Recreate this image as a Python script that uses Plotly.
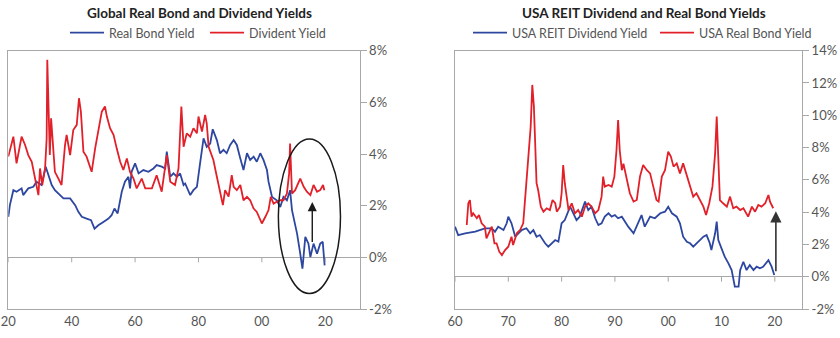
import plotly.graph_objects as go

# ---- Global: real bond yield and dividend yield (%), 1920-2020 ----
global_bond_years = [
    1920.0, 1920.5, 1921.6, 1922.6, 1924.2, 1924.7, 1926.3, 1927.9, 1928.9, 1930.5,
    1931.8, 1932.6, 1933.7, 1934.7, 1935.8, 1937.4, 1939.5, 1941.1, 1942.1, 1943.2,
    1944.7, 1946.1, 1947.2, 1948.4, 1950.0, 1951.6, 1952.6, 1953.5, 1954.5, 1955.8,
    1956.8, 1957.9, 1958.4, 1958.9, 1960.0, 1961.1, 1962.6, 1964.2, 1965.8, 1966.8,
    1968.4, 1969.5, 1970.0, 1971.1, 1972.1, 1973.2, 1974.2, 1975.3, 1975.8, 1977.4,
    1978.4, 1979.5, 1980.5, 1981.6, 1982.6, 1983.7, 1984.5, 1985.8, 1986.8, 1987.9,
    1988.9, 1990.0, 1991.1, 1992.1, 1993.2, 1994.2, 1995.3, 1996.3, 1997.4, 1998.4,
    1999.5, 2000.5, 2001.6, 2002.1, 2003.2, 2004.7, 2005.8, 2006.8, 2007.9, 2008.9,
    2009.5, 2010.5, 2011.1, 2012.1, 2012.8, 2013.7, 2014.7, 2015.3, 2016.3, 2017.4,
    2018.4, 2019.2, 2019.8,
]
global_bond_yield = [
    1.57, 2.02, 2.60, 2.54, 2.67, 2.41, 2.67, 2.73, 2.93, 2.80,
    3.51, 3.18, 2.80, 2.60, 2.47, 2.28, 2.28, 2.02, 1.76, 1.57,
    1.50, 1.44, 1.11, 1.24, 1.37, 1.50, 1.63, 1.89, 1.70, 2.54,
    2.93, 3.12, 2.67, 3.31, 3.64, 3.25, 3.38, 3.31, 3.44, 3.57,
    3.51, 3.44, 4.09, 3.12, 3.25, 3.12, 3.25, 2.80, 2.86, 2.41,
    2.60, 2.73, 3.64, 4.61, 4.28, 4.41, 4.96, 4.54, 4.03, 4.16,
    4.03, 4.35, 4.54, 4.35, 3.83, 3.38, 4.03, 3.77, 3.90, 3.70,
    4.03, 3.77, 3.38, 2.93, 2.34, 2.21, 1.95, 2.34, 2.21, 2.60,
    1.83, 1.31, 0.92, 0.14, -0.44, 0.79, 0.53, 0.01, 0.53, 0.14,
    0.53, 0.60, -0.31,
]

global_div_years = [
    1920.0, 1921.6, 1922.6, 1924.2, 1925.3, 1926.3, 1927.4, 1928.4, 1929.5, 1930.0,
    1930.7, 1931.6, 1932.1, 1932.3, 1932.7, 1933.1, 1933.5, 1934.0, 1934.7, 1935.8,
    1936.8, 1937.9, 1938.4, 1939.5, 1940.5, 1941.6, 1942.3, 1942.9, 1943.7, 1944.7,
    1946.3, 1947.4, 1948.4, 1949.5, 1950.5, 1951.1, 1952.1, 1953.2, 1954.2, 1955.3,
    1956.3, 1957.4, 1958.4, 1959.5, 1960.5, 1962.1, 1963.2, 1965.3, 1966.8, 1968.4,
    1970.0, 1971.1, 1972.6, 1973.7, 1974.6, 1975.3, 1976.3, 1977.4, 1978.4, 1979.5,
    1980.0, 1981.1, 1982.1, 1982.6, 1983.2, 1984.2, 1984.7, 1985.8, 1986.8, 1987.7,
    1988.4, 1989.5, 1990.5, 1991.1, 1992.1, 1993.2, 1994.2, 1995.3, 1996.3, 1997.4,
    1998.4, 2000.0, 2001.1, 2002.1, 2002.8, 2003.7, 2004.7, 2005.8, 2006.8, 2007.9,
    2008.6, 2008.9, 2009.5, 2010.5, 2012.1, 2013.2, 2014.2, 2015.3, 2016.3, 2017.4,
    2018.4, 2019.3, 2019.7,
]
global_div_yield = [
    3.90, 4.67, 3.64, 4.67, 4.35, 3.96, 3.70, 3.05, 2.41, 3.44,
    2.80, 3.44, 4.60, 7.65, 5.64, 3.96, 5.38, 4.35, 3.31, 3.05,
    2.80, 4.35, 4.74, 3.96, 4.93, 5.13, 6.16, 5.64, 4.09, 3.90,
    3.31, 4.22, 4.87, 5.64, 5.84, 5.45, 5.00, 4.74, 4.22, 3.70,
    3.38, 3.83, 3.31, 3.05, 2.67, 3.05, 2.67, 2.67, 3.18, 2.54,
    3.96, 2.93, 2.80, 3.44, 5.84, 4.28, 4.80, 4.67, 5.00, 4.80,
    5.45, 4.87, 5.51, 5.19, 4.28, 3.90, 3.77, 3.12, 2.60, 2.02,
    2.60, 2.35, 3.18, 2.73, 2.60, 2.80, 2.21, 2.34, 2.21, 1.89,
    1.76, 1.31, 1.57, 1.83, 2.34, 2.08, 2.15, 2.21, 2.21, 2.47,
    3.25, 4.41, 2.47, 2.60, 3.05, 2.73, 2.54, 2.41, 2.80, 2.54,
    2.60, 2.80, 2.60,
]

# ---- USA: REIT dividend yield and real bond yield (%), 1960-2020 ----
usa_reit_years = [
    1960.0, 1960.6, 1961.9, 1963.8, 1965.6, 1966.9, 1967.5, 1968.1, 1969.1, 1969.7,
    1970.0, 1970.6, 1971.3, 1971.9, 1972.5, 1973.4, 1974.1, 1974.7, 1975.3, 1975.9,
    1976.9, 1977.5, 1978.1, 1978.8, 1979.4, 1980.0, 1980.6, 1981.3, 1981.6, 1982.2,
    1982.8, 1983.4, 1984.4, 1985.0, 1985.6, 1986.3, 1986.9, 1987.5, 1988.1, 1988.8,
    1989.4, 1990.0, 1990.6, 1991.3, 1991.9, 1992.5, 1993.5, 1994.1, 1995.0, 1995.6,
    1996.6, 1997.5, 1998.5, 1999.4, 2000.0, 2000.7, 2001.6, 2002.2, 2002.8, 2003.5,
    2004.1, 2004.7, 2005.3, 2006.0, 2006.6, 2007.2, 2007.8, 2008.1, 2008.8, 2009.1,
    2009.4, 2010.0, 2010.6, 2011.3, 2011.9, 2012.5, 2013.2, 2013.5, 2014.1, 2014.7,
    2015.3, 2016.0, 2016.6, 2017.2, 2017.8, 2018.8, 2019.4, 2019.9,
]
usa_reit_yield = [
    3.10, 2.58, 2.69, 2.79, 3.00, 3.00, 2.79, 3.10, 2.89, 3.31,
    3.72, 3.31, 2.48, 2.69, 2.89, 3.00, 2.69, 2.89, 2.48, 2.58,
    2.07, 1.86, 2.07, 2.27, 2.17, 3.31, 3.51, 4.13, 4.34, 3.93,
    3.51, 3.72, 4.65, 4.13, 4.34, 3.62, 3.20, 3.31, 3.72, 3.93,
    3.72, 3.82, 3.62, 3.72, 3.41, 3.10, 2.69, 3.10, 3.82, 3.10,
    3.72, 3.62, 3.93, 4.03, 4.34, 3.93, 3.72, 3.31, 2.48, 2.17,
    2.07, 1.86, 2.07, 2.27, 2.48, 2.58, 2.07, 1.65, 2.69, 3.41,
    2.27, 1.76, 1.24, 0.83, 0.41, -0.62, -0.62, 0.41, 0.93, 0.41,
    0.72, 0.41, 0.62, 0.52, 0.62, 1.03, 0.62, 0.10,
]

usa_bond_years = [
    1962.2, 1962.5, 1962.8, 1963.1, 1963.4, 1964.1, 1964.5, 1965.0, 1965.6, 1965.9,
    1966.6, 1966.9, 1967.4, 1967.8, 1968.3, 1968.8, 1969.4, 1970.0, 1970.6, 1970.9,
    1971.6, 1972.2, 1972.8, 1973.1, 1973.4, 1973.8, 1974.2, 1974.5, 1974.8, 1975.0,
    1975.3, 1975.6, 1976.1, 1976.6, 1977.2, 1977.8, 1978.3, 1978.8, 1979.1, 1979.7,
    1980.0, 1980.3, 1980.6, 1981.3, 1981.9, 1982.5, 1983.1, 1983.8, 1984.4, 1985.0,
    1985.6, 1986.3, 1986.9, 1987.5, 1987.8, 1988.1, 1988.8, 1989.4, 1989.9, 1990.3,
    1990.6, 1990.9, 1991.3, 1991.6, 1992.2, 1992.8, 1993.5, 1994.1, 1994.7, 1995.3,
    1996.0, 1996.6, 1997.2, 1997.8, 1998.2, 1998.8, 1999.4, 2000.0, 2000.5, 2001.0,
    2001.6, 2002.2, 2002.8, 2003.5, 2004.1, 2004.7, 2005.3, 2006.0, 2006.6, 2007.1,
    2007.7, 2008.3, 2008.8, 2009.1, 2009.4, 2009.7, 2010.3, 2011.0, 2011.6, 2012.2,
    2012.8, 2013.5, 2014.1, 2015.0, 2015.7, 2016.3, 2016.9, 2017.5, 2018.2, 2018.8,
    2019.1, 2019.7,
]
usa_bond_yield = [
    3.20, 4.55, 4.75, 3.72, 3.93, 3.62, 3.82, 3.31, 3.10, 2.38,
    2.89, 3.10, 2.07, 2.07, 1.55, 1.34, 1.65, 1.86, 2.48, 1.96,
    2.69, 2.89, 3.31, 4.55, 5.68, 7.85, 9.30, 11.88, 10.54, 8.68,
    5.79, 5.37, 4.34, 4.03, 4.24, 4.13, 4.75, 4.55, 4.03, 4.34,
    5.17, 6.92, 5.79, 4.13, 4.55, 3.93, 4.13, 3.72, 4.34, 4.55,
    4.34, 3.93, 4.13, 4.96, 6.20, 5.58, 5.68, 5.58, 6.20, 7.85,
    9.71, 7.85, 6.60, 7.00, 6.00, 5.17, 4.65, 4.75, 6.20, 6.92,
    6.60, 6.40, 5.58, 4.75, 4.65, 6.20, 6.60, 7.75, 7.44, 6.82,
    7.02, 6.40, 7.02, 6.20, 5.58, 4.96, 5.17, 4.75, 4.34, 3.82,
    4.55, 5.58, 7.64, 9.92, 7.64, 4.75, 4.55, 4.34, 4.96, 4.24,
    4.34, 4.13, 4.24, 3.72, 4.34, 4.03, 4.44, 4.34, 4.55, 5.06,
    4.65, 4.24,
]

# ---- axis ticks ----
left_year_ticks = [1920, 1940, 1960, 1980, 2000, 2020]
right_year_ticks = [1960, 1970, 1980, 1990, 2000, 2010, 2020]
left_pct_ticks = [-2, 0, 2, 4, 6, 8]
right_pct_ticks = [-2, 0, 2, 4, 6, 8, 10, 12, 14]

BLUE = "#2D47A0"
RED = "#E2202A"
FRAME = "#A8A8A8"
TICK_TEXT = "#555555"
FONT = "Lato, 'Open Sans', sans-serif"

W, H = 840, 338


def px_x(p):
    return p / W


def px_y(p):
    return 1 - p / H


y_dom = [px_y(309), px_y(50.7)]
left_dom = [px_x(8.3), px_x(359.5)]
right_dom = [px_x(455), px_x(802)]

fig = go.Figure()

fig.add_trace(go.Scatter(x=global_bond_years, y=global_bond_yield, mode="lines",
                         name="Real Bond Yield", line=dict(color=BLUE, width=1.8),
                         xaxis="x", yaxis="y", legend="legend"))
fig.add_trace(go.Scatter(x=global_div_years, y=global_div_yield, mode="lines",
                         name="Divident Yield", line=dict(color=RED, width=1.8),
                         xaxis="x", yaxis="y", legend="legend"))
fig.add_trace(go.Scatter(x=usa_reit_years, y=usa_reit_yield, mode="lines",
                         name="USA REIT Dividend Yield", line=dict(color=BLUE, width=1.8),
                         xaxis="x2", yaxis="y2", legend="legend2"))
fig.add_trace(go.Scatter(x=usa_bond_years, y=usa_bond_yield, mode="lines",
                         name="USA Real Bond Yield", line=dict(color=RED, width=1.8),
                         xaxis="x2", yaxis="y2", legend="legend2"))


def x_axis(dom, rng, ticks, anchor):
    return dict(domain=dom, range=rng, anchor=anchor, automargin=False,
                tickvals=ticks, ticktext=[f"{t % 100:02d}" for t in ticks],
                ticks="", showgrid=False, zeroline=False,
                showline=True, mirror=True, linecolor=FRAME, linewidth=1,
                tickfont=dict(family=FONT, size=13, color=TICK_TEXT))


def y_axis(rng, ticks, anchor):
    return dict(domain=y_dom, range=rng, anchor=anchor, side="right", automargin=False,
                tickvals=ticks, ticktext=[f"{t}%" for t in ticks],
                ticks="outside", ticklen=6, tickcolor=FRAME, tickwidth=1,
                showgrid=False, zeroline=True, zerolinecolor=FRAME, zerolinewidth=1,
                showline=True, mirror=True, linecolor=FRAME, linewidth=1,
                tickfont=dict(family=FONT, size=13, color=TICK_TEXT))


shapes = []
# small tick marks hanging from the zero line
for t in left_year_ticks:
    shapes.append(dict(type="line", xref="x", yref="y", ysizemode="pixel", yanchor=0,
                       x0=t, x1=t, y0=0, y1=-5, line=dict(color=FRAME, width=1)))
for t in right_year_ticks:
    shapes.append(dict(type="line", xref="x2", yref="y2", ysizemode="pixel", yanchor=0,
                       x0=t, x1=t, y0=0, y1=-5, line=dict(color=FRAME, width=1)))
# ellipse around the recent period on the global panel
shapes.append(dict(type="circle", xref="x", yref="y", x0=2005.2, x1=2024.8,
                   y0=-1.4, y1=4.58, line=dict(color="#1A1A1A", width=1.5)))

annotations = [
    dict(text="<b>Global Real Bond and Dividend Yields</b>", xref="paper", yref="paper",
         x=px_x(199.5), y=px_y(13), xanchor="center", yanchor="middle", showarrow=False,
         font=dict(family=FONT, size=13.5, color="#222222")),
    dict(text="<b>USA REIT Dividend and Real Bond Yields</b>", xref="paper", yref="paper",
         x=px_x(644), y=px_y(13), xanchor="center", yanchor="middle", showarrow=False,
         font=dict(family=FONT, size=13.5, color="#222222")),
    # gap arrows
    dict(x=2015.9, y=2.14, ax=2015.9, ay=0.54, xref="x", yref="y", axref="x", ayref="y",
         text="", showarrow=True, arrowhead=2, arrowsize=1.3, arrowwidth=1.4,
         arrowcolor="#1A1A1A"),
    dict(x=2020.2, y=4.05, ax=2020.2, ay=0.25, xref="x2", yref="y2", axref="x2", ayref="y2",
         text="", showarrow=True, arrowhead=2, arrowsize=1.4, arrowwidth=1.6,
         arrowcolor="#333333"),
]

legend_common = dict(orientation="h", xanchor="left", yanchor="middle",
                     bgcolor="rgba(0,0,0,0)", font=dict(family=FONT, size=12.5, color=TICK_TEXT),
                     itemwidth=34, tracegroupgap=0, entrywidthmode="pixels")

fig.update_layout(
    width=W, height=H,
    margin=dict(l=0, r=0, t=0, b=0, autoexpand=False),
    paper_bgcolor="white", plot_bgcolor="white",
    showlegend=True,
    xaxis=x_axis(left_dom, [1920, 2030.8], left_year_ticks, "y"),
    yaxis=y_axis([-2, 8], left_pct_ticks, "x"),
    xaxis2=x_axis(right_dom, [1960, 2025.1], right_year_ticks, "y2"),
    yaxis2=y_axis([-2, 14], right_pct_ticks, "x2"),
    legend=dict(x=px_x(65), y=px_y(33), entrywidth=91, **legend_common),
    legend2=dict(x=px_x(468), y=px_y(33), entrywidth=138, **legend_common),
    shapes=shapes,
    annotations=annotations,
)

fig.write_html("out.html")
